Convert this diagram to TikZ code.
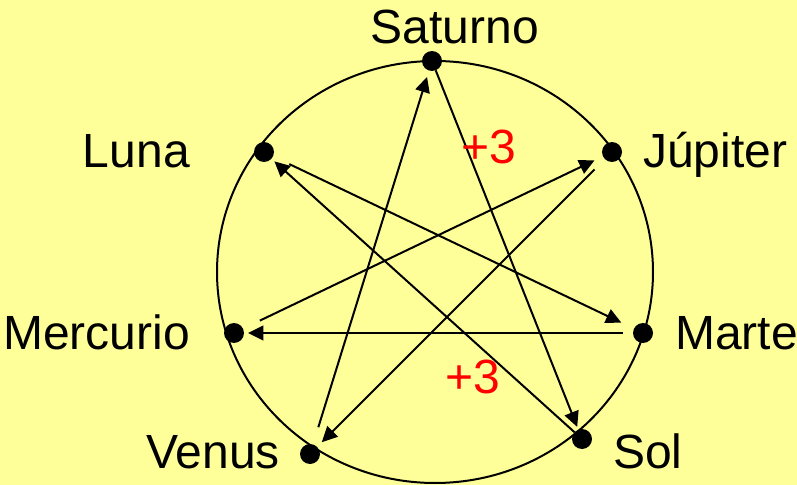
\documentclass[tikz,border=0pt]{standalone}
\usepackage{fontspec}
\setmainfont{Liberation Sans}
\usetikzlibrary{arrows.meta}
\definecolor{paper}{HTML}{FFFF99}
\definecolor{plus}{HTML}{FF0000}
\tikzset{planet/.style={circle,fill=black,minimum size=15pt,inner sep=0pt,outer sep=0pt},
  planetname/.style={font=\fontsize{36}{43}\selectfont,inner sep=0pt},
  hop/.style={line width=1.5pt,-{Triangle[length=11.5pt,width=11pt]}},
  gain/.style={text=plus,font=\fontsize{36}{43}\selectfont,inner sep=0pt}}

\begin{document}
\begin{tikzpicture}[x=0.75pt,y=-0.75pt]
\fill[paper] (0,0) rectangle (797,485);
\useasboundingbox (0,0) rectangle (797,485);
\draw[line width=1.5pt] (435,272) ellipse [x radius=163.5pt,y radius=158.25pt];
% planets on the ring
\node[planet] (sat) at (432,61) {};
\node[planet] (luna) at (264,152) {};
\node[planet] (jup) at (612,152) {};
\node[planet] (merc) at (234,333) {};
\node[planet] (marte) at (643,333) {};
\node[planet] (venus) at (310,454) {};
\node[planet] (sol) at (582,439) {};
\node[planetname,anchor=base] (satL) at (455,44) {Saturno};
\node[planetname,anchor=base east] (lunaL) at (190,167) {Luna};
\node[planetname,anchor=base west] (jupL) at (643,167) {Júpiter};
\node[planetname,anchor=base east] (mercL) at (190,349) {Mercurio};
\node[planetname,anchor=base west] (marteL) at (675,349) {Marte};
\node[planetname,anchor=base east] (venusL) at (280,468) {Venus};
\node[planetname,anchor=base west] (solL) at (613,468) {Sol};
% order of the week
\draw[hop,shorten >=2.25pt] (sat) -- (sol);
\draw[hop,shorten >=3pt] (sol) -- (luna);
\draw[hop,shorten <=13.5pt,shorten >=10.5pt] (luna) -- (marte);
\draw[hop,shorten <=7.5pt,shorten >=3pt] (marte) -- (merc);
\draw[hop,shorten <=14pt,shorten >=7pt] (merc) -- (jup);
\draw[hop,shorten <=11pt,shorten >=5pt] (jup) -- (venus);
\draw[hop,shorten <=13.5pt,shorten >=5pt] (venus) -- (sat);
\node[gain,anchor=base] (g1) at (489,163) {+3};
\node[gain,anchor=base] (g2) at (473,393) {+3};
\end{tikzpicture}
\end{document}
